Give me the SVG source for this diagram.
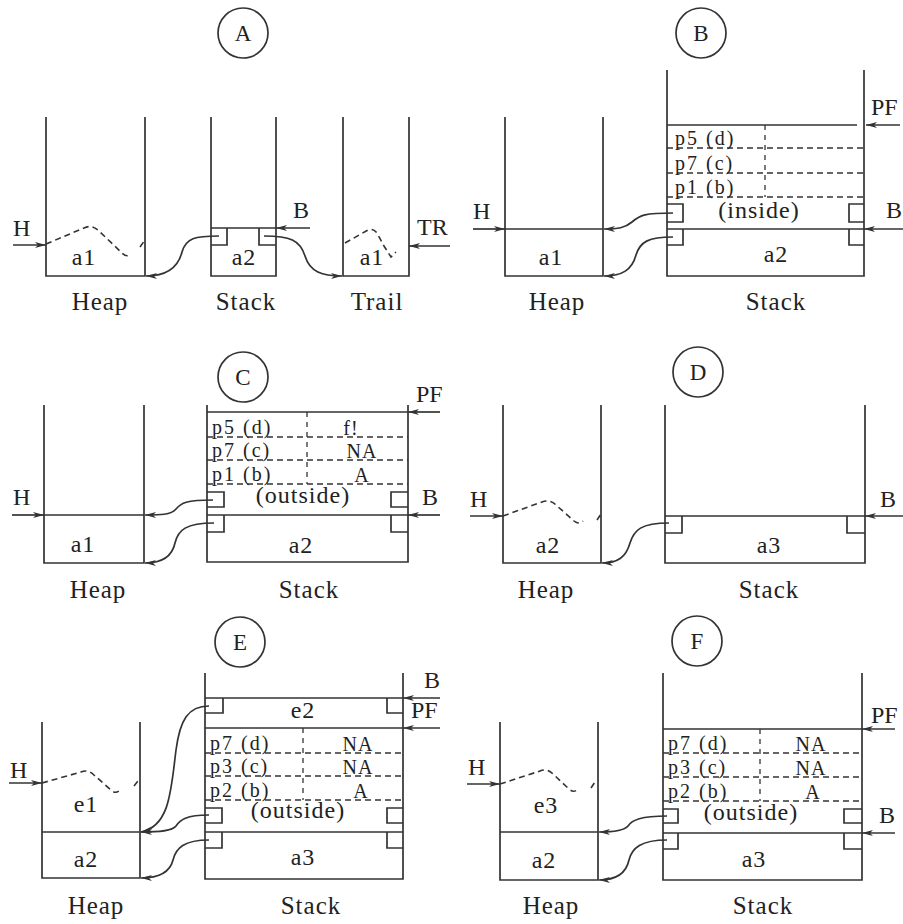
<svg xmlns="http://www.w3.org/2000/svg" width="903" height="924" viewBox="0 0 903 924">
<defs>
<marker id="ah" markerUnits="userSpaceOnUse" markerWidth="12" markerHeight="7" refX="11" refY="3.5" orient="auto">
<path d="M0,0.5 L11,3.5 L0,6.5 L3,3.5 z" fill="#333"/>
</marker>
</defs>
<style>
.w{stroke:#333;stroke-width:1.7;fill:none}
.d{stroke:#333;stroke-width:1.6;stroke-dasharray:6 4;fill:none}
.dv{stroke:#333;stroke-width:1.3;stroke-dasharray:5 5;fill:none}
.c{stroke:#333;stroke-width:1.7;fill:none;marker-end:url(#ah)}
.ci{stroke:#333;stroke-width:1.7;fill:none}
text{font-family:"Liberation Serif","Times New Roman",serif;fill:#222}
.t{font-size:20px;letter-spacing:2px}
.r{font-size:20px;letter-spacing:1px;text-anchor:middle}
.m{font-size:24px;letter-spacing:1px;text-anchor:middle}
.l{font-size:25px;letter-spacing:1px;text-anchor:middle}
.p{font-size:24px}
.k{font-size:23px;text-anchor:middle}
</style>

<!-- Panel A -->
<g id="labelA"><circle class="ci" cx="243" cy="33" r="25"/><text class="k" x="243" y="41">A</text></g>
<g id="heapA">
<path class="w" d="M46,117 V276 H145 V117"/>
<path class="d" d="M46,244 L84,228 Q92,224 99,231 L122,253 Q127,258 131,254 M140,247 L145,240"/>
<text class="m" x="84" y="265">a1</text>
<text class="p" x="13" y="236">H</text>
<text class="l" x="100" y="310">Heap</text>
</g>
<g id="stackA">
<path class="w" d="M211,117 V276 H276 V117 M211,228 H276 M227,228 V245 H211 M259,228 V245 H276"/>
<text class="m" x="244" y="265">a2</text>
<text class="p" x="293" y="218">B</text>
<text class="l" x="246" y="310">Stack</text>
</g>
<g id="trailA">
<path class="w" d="M343,117 V276 H409 V117"/>
<path class="d" d="M345,243 L368,230 Q373,228 377,233 L384,246 L391,257 L396,252"/>
<text class="m" x="372" y="265">a1</text>
<text class="p" x="417" y="235">TR</text>
<text class="l" x="377" y="310">Trail</text>
</g>

<!-- Panel B -->
<g id="labelB"><circle class="ci" cx="701" cy="33" r="25"/><text class="k" x="701" y="41">B</text></g>
<g id="heapB">
<path class="w" d="M505,117 V276 H603 V117 M505,229 H603"/>
<text class="m" x="551" y="265">a1</text>
<text class="p" x="473" y="219">H</text>
<text class="l" x="557" y="310">Heap</text>
</g>
<g id="stackB">
<path class="w" d="M667,70 V276 H864 V70 M667,125 H857 M667,229 H864"/>
<path class="d" d="M667,148 H864 M667,173 H864 M667,197 H864"/>
<path class="dv" d="M765,125 V197"/>
<path class="w" d="M667,204 H683 V222 H667 M864,204 H849 V222 H864 M683,229 V245 H667 M849,229 V245 H864"/>
<text class="t" x="675" y="145">p5 (d)</text>
<text class="t" x="675" y="170">p7 (c)</text>
<text class="t" x="675" y="194">p1 (b)</text>
<text class="m" x="759" y="218">(inside)</text>
<text class="m" x="776" y="262">a2</text>
<text class="p" x="871" y="115">PF</text>
<text class="p" x="886" y="218">B</text>
<text class="l" x="776" y="310">Stack</text>
</g>

<!-- Panel C -->
<g id="labelC"><circle class="ci" cx="243" cy="377" r="25"/><text class="k" x="243" y="385">C</text></g>
<g id="heapC">
<path class="w" d="M44,405 V563 H144 V405 M44,515 H144"/>
<text class="m" x="83" y="552">a1</text>
<text class="p" x="13" y="505">H</text>
<text class="l" x="98" y="598">Heap</text>
</g>
<g id="stackC">
<path class="w" d="M207,405 V562 H408 V405 M207,412 H408 M207,515 H408"/>
<path class="d" d="M207,437 H408 M207,460 H408 M207,484 H408"/>
<path class="dv" d="M307,412 V484"/>
<path class="w" d="M207,492 H224 V507 H207 M408,492 H391 V507 H408 M224,515 V532 H207 M391,515 V532 H408"/>
<text class="t" x="212" y="434">p5 (d)</text>
<text class="t" x="212" y="457">p7 (c)</text>
<text class="t" x="212" y="481">p1 (b)</text>
<text class="r" x="351" y="435">f!</text>
<text class="r" x="362" y="458">NA</text>
<text class="r" x="362" y="482">A</text>
<text class="m" x="303" y="503">(outside)</text>
<text class="m" x="301" y="553">a2</text>
<text class="p" x="416" y="402">PF</text>
<text class="p" x="422" y="505">B</text>
<text class="l" x="309" y="598">Stack</text>
</g>

<!-- Panel D -->
<g id="labelD"><circle class="ci" cx="698" cy="372" r="25"/><text class="k" x="698" y="380">D</text></g>
<g id="heapD">
<path class="w" d="M503,405 V563 H601 V405"/>
<path class="d" d="M503,516 L542,502 Q550,499 556,505 L574,521 Q579,525 583,521 M597,520 L601,514"/>
<text class="m" x="548" y="553">a2</text>
<text class="p" x="470" y="507">H</text>
<text class="l" x="546" y="598">Heap</text>
</g>
<g id="stackD">
<path class="w" d="M665,405 V563 H865 V405 M665,516 H865 M682,516 V533 H665 M847,516 V533 H865"/>
<text class="m" x="769" y="553">a3</text>
<text class="p" x="880" y="507">B</text>
<text class="l" x="769" y="598">Stack</text>
</g>

<!-- Panel E -->
<g id="labelE"><circle class="ci" cx="240" cy="642" r="25"/><text class="k" x="240" y="650">E</text></g>
<g id="heapE">
<path class="w" d="M42,722 V878 H140 V722 M42,832 H140"/>
<path class="d" d="M42,783 L81,772 Q88,769 94,775 L111,790 Q115,794 119,791 M134,786 L138,781"/>
<text class="m" x="86" y="812">e1</text>
<text class="m" x="86" y="867">a2</text>
<text class="p" x="10" y="778">H</text>
<text class="l" x="96" y="914">Heap</text>
</g>
<g id="stackE">
<path class="w" d="M205,673 V879 H403 V673 M205,698 H403 M205,728 H403 M205,832 H403"/>
<path class="w" d="M223,698 V713 H205 M387,698 V713 H403"/>
<path class="d" d="M205,753 H403 M205,776 H403 M205,800 H403"/>
<path class="dv" d="M303,728 V800"/>
<path class="w" d="M205,808 H222 V823 H205 M403,808 H387 V823 H403 M222,832 V848 H205 M387,832 V848 H403"/>
<text class="m" x="303" y="718">e2</text>
<text class="t" x="210" y="750">p7 (d)</text>
<text class="t" x="210" y="773">p3 (c)</text>
<text class="t" x="210" y="797">p2 (b)</text>
<text class="r" x="358" y="751">NA</text>
<text class="r" x="358" y="774">NA</text>
<text class="r" x="361" y="798">A</text>
<text class="m" x="298" y="818">(outside)</text>
<text class="m" x="303" y="865">a3</text>
<text class="p" x="424" y="688">B</text>
<text class="p" x="411" y="718">PF</text>
<text class="l" x="311" y="914">Stack</text>
</g>

<!-- Panel F -->
<g id="labelF"><circle class="ci" cx="697" cy="641" r="25"/><text class="k" x="697" y="649">F</text></g>
<g id="heapF">
<path class="w" d="M500,722 V880 H598 V722 M500,832 H598"/>
<path class="d" d="M500,784 L540,771 Q547,768 553,774 L569,789 Q573,793 577,790 M591,788 L595,782"/>
<text class="m" x="546" y="813">e3</text>
<text class="m" x="544" y="868">a2</text>
<text class="p" x="468" y="775">H</text>
<text class="l" x="551" y="914">Heap</text>
</g>
<g id="stackF">
<path class="w" d="M663,673 V880 H862 V673 M663,729 H862 M663,833 H862"/>
<path class="d" d="M663,753 H862 M663,777 H862 M663,801 H862"/>
<path class="dv" d="M760,729 V801"/>
<path class="w" d="M663,809 H678 V823 H663 M862,809 H844 V823 H862 M678,833 V849 H663 M844,833 V849 H862"/>
<text class="t" x="668" y="750">p7 (d)</text>
<text class="t" x="668" y="774">p3 (c)</text>
<text class="t" x="668" y="798">p2 (b)</text>
<text class="r" x="811" y="751">NA</text>
<text class="r" x="811" y="775">NA</text>
<text class="r" x="813" y="799">A</text>
<text class="m" x="751" y="820">(outside)</text>
<text class="m" x="754" y="867">a3</text>
<text class="p" x="871" y="723">PF</text>
<text class="p" x="879" y="823">B</text>
<text class="l" x="763" y="914">Stack</text>
</g>

<g id="connectors">
<!-- A -->
<path class="c" d="M13,245 H46"/>
<path class="c" d="M310,228 H276"/>
<path class="c" d="M450,246 H409"/>
<path class="c" d="M219,236 C195,236 186,238 182,252 C178,268 165,276 146,276"/>
<path class="c" d="M264,236 C290,236 300,240 305,256 C310,272 322,276 342,276"/>
<!-- B -->
<path class="c" d="M473,229 H505"/>
<path class="c" d="M900,125 H866"/>
<path class="c" d="M903,229 H864"/>
<path class="c" d="M673,213 C645,213 640,215 632,222 C625,228 618,229 604,229"/>
<path class="c" d="M673,237 C648,237 640,242 636,255 C632,270 622,276 604,276"/>
<!-- C -->
<path class="c" d="M12,515 H44"/>
<path class="c" d="M440,412 H408"/>
<path class="c" d="M440,515 H408"/>
<path class="c" d="M213,500 C186,500 181,503 176,509 C171,515 160,515 145,515"/>
<path class="c" d="M214,523 C186,523 178,530 175,543 C172,557 162,563 145,563"/>
<!-- D -->
<path class="c" d="M470,516 H503"/>
<path class="c" d="M903,516 H865"/>
<path class="c" d="M669,523 C641,523 634,530 630,543 C626,557 618,563 602,563"/>
<!-- E -->
<path class="c" d="M9,783 H42"/>
<path class="c" d="M440,698 H403"/>
<path class="c" d="M440,728 H403"/>
<path class="c" d="M209,706 C188,706 180,720 176,750 C171,790 170,826 141,832"/>
<path class="c" d="M209,815 C186,815 180,820 176,826 C172,831 160,832 141,832"/>
<path class="c" d="M209,840 C184,840 176,848 173,860 C170,872 160,878 141,878"/>
<!-- F -->
<path class="c" d="M467,784 H500"/>
<path class="c" d="M895,729 H862"/>
<path class="c" d="M895,833 H862"/>
<path class="c" d="M667,816 C641,816 632,820 628,826 C624,831 612,832 599,832"/>
<path class="c" d="M667,840 C641,840 632,848 629,860 C626,874 615,880 599,880"/>
</g>
</svg>
